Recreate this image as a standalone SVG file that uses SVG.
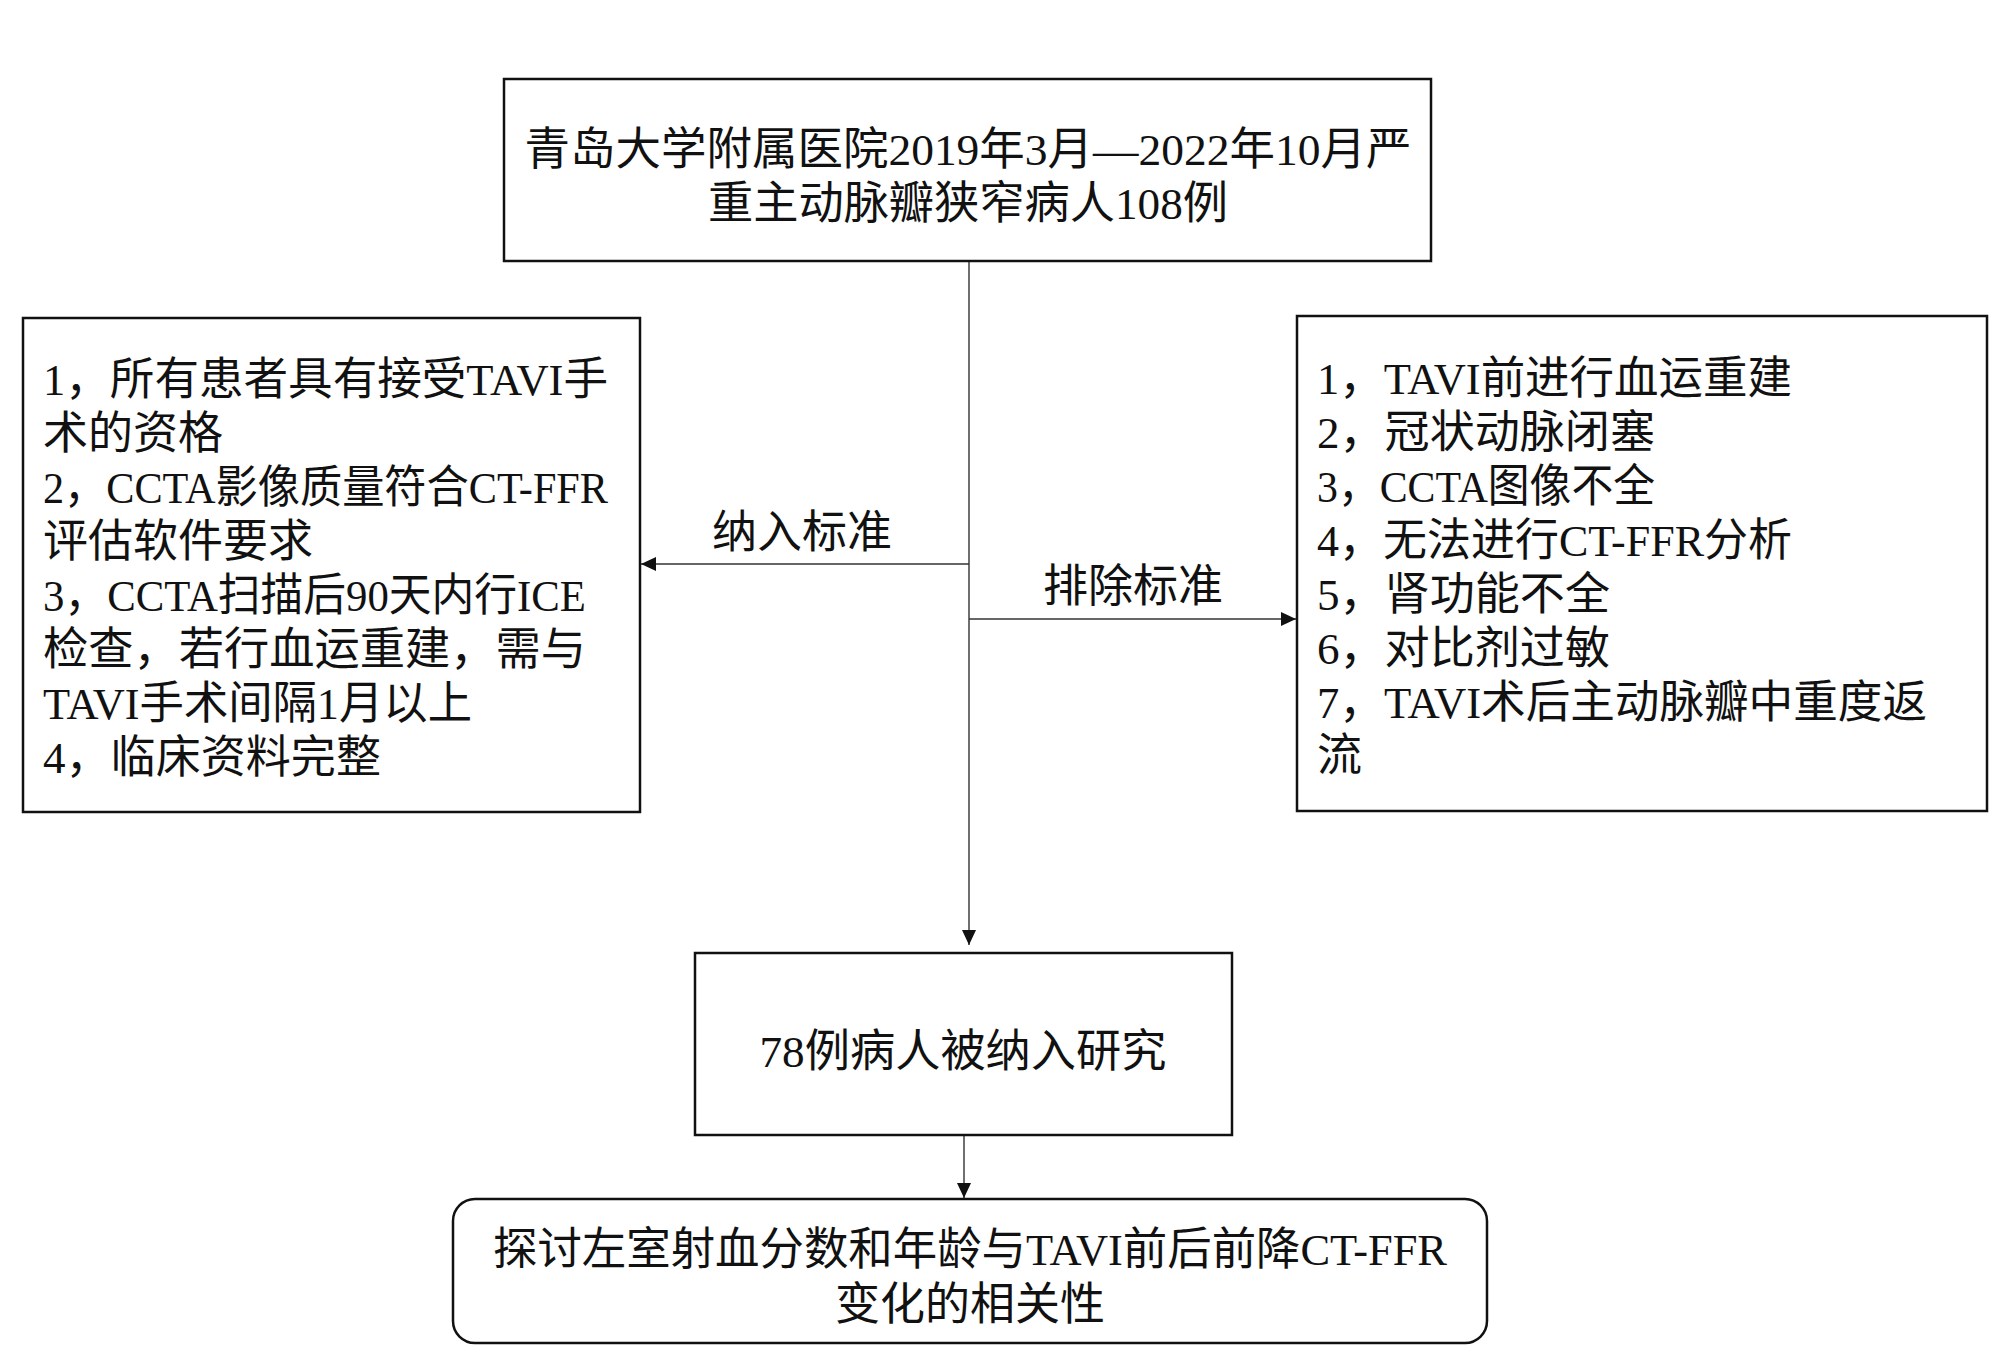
<svg xmlns="http://www.w3.org/2000/svg" width="2000" height="1365" viewBox="0 0 2000 1365">
<style>
  .box { fill: #ffffff; stroke: #111111; stroke-width: 2.5; }
  .conn { fill: none; stroke: #333333; stroke-width: 1.4; }
  text { font-family: "Liberation Serif", "Noto Sans CJK SC", serif; font-size: 45px; fill: #111111; }
  .mid { text-anchor: middle; }
</style>
<defs>
  <marker id="arrow" markerUnits="userSpaceOnUse" markerWidth="15" markerHeight="14" refX="15" refY="7" orient="auto">
    <path d="M0,0 L15,7 L0,14 Z" fill="#111111"/>
  </marker>
</defs>
<rect width="2000" height="1365" fill="#ffffff"/>

<g id="connectors">
  <line class="conn" x1="969" y1="261" x2="969" y2="945" marker-end="url(#arrow)"/>
  <line class="conn" x1="969" y1="564" x2="641" y2="564" marker-end="url(#arrow)"/>
  <line class="conn" x1="969" y1="619" x2="1296" y2="619" marker-end="url(#arrow)"/>
  <line class="conn" x1="964" y1="1136" x2="964" y2="1198" marker-end="url(#arrow)"/>
  <text id="label-include" class="mid" x="802" y="548">纳入标准</text>
  <text id="label-exclude" class="mid" x="1133" y="602">排除标准</text>
</g>

<g id="node-source">
  <rect class="box" x="504" y="79" width="927" height="182"/>
  <text class="mid" x="968" y="165" textLength="887" lengthAdjust="spacingAndGlyphs">青岛大学附属医院2019年3月—2022年10月严</text>
  <text class="mid" x="968" y="219" textLength="520" lengthAdjust="spacingAndGlyphs">重主动脉瓣狭窄病人108例</text>
</g>

<g id="node-inclusion">
  <rect class="box" x="23" y="318" width="617" height="494"/>
  <text x="43" y="395" textLength="565" lengthAdjust="spacingAndGlyphs">1，所有患者具有接受TAVI手</text>
  <text x="43" y="449">术的资格</text>
  <text x="43" y="503" textLength="565" lengthAdjust="spacingAndGlyphs">2，CCTA影像质量符合CT-FFR</text>
  <text x="43" y="557">评估软件要求</text>
  <text x="43" y="611" textLength="543" lengthAdjust="spacingAndGlyphs">3，CCTA扫描后90天内行ICE</text>
  <text x="43" y="665" textLength="543" lengthAdjust="spacingAndGlyphs">检查，若行血运重建，需与</text>
  <text x="43" y="719" textLength="429" lengthAdjust="spacingAndGlyphs">TAVI手术间隔1月以上</text>
  <text x="43" y="773" textLength="338" lengthAdjust="spacingAndGlyphs">4，临床资料完整</text>
</g>

<g id="node-exclusion">
  <rect class="box" x="1297" y="316" width="690" height="495"/>
  <text x="1317" y="394" textLength="475" lengthAdjust="spacingAndGlyphs">1，TAVI前进行血运重建</text>
  <text x="1317" y="448" textLength="338" lengthAdjust="spacingAndGlyphs">2，冠状动脉闭塞</text>
  <text x="1317" y="502" textLength="338" lengthAdjust="spacingAndGlyphs">3，CCTA图像不全</text>
  <text x="1317" y="556" textLength="475" lengthAdjust="spacingAndGlyphs">4，无法进行CT-FFR分析</text>
  <text x="1317" y="610" textLength="293" lengthAdjust="spacingAndGlyphs">5，肾功能不全</text>
  <text x="1317" y="664" textLength="293" lengthAdjust="spacingAndGlyphs">6，对比剂过敏</text>
  <text x="1317" y="718" textLength="610" lengthAdjust="spacingAndGlyphs">7，TAVI术后主动脉瓣中重度返</text>
  <text x="1317" y="771">流</text>
</g>

<g id="node-included">
  <rect class="box" x="695" y="953" width="537" height="182"/>
  <text class="mid" x="963" y="1067" textLength="407" lengthAdjust="spacingAndGlyphs">78例病人被纳入研究</text>
</g>

<g id="node-aim">
  <rect class="box" x="453" y="1199" width="1034" height="144" rx="22" ry="22"/>
  <text class="mid" x="970" y="1265" textLength="954" lengthAdjust="spacingAndGlyphs">探讨左室射血分数和年龄与TAVI前后前降CT-FFR</text>
  <text class="mid" x="970" y="1320">变化的相关性</text>
</g>
</svg>
